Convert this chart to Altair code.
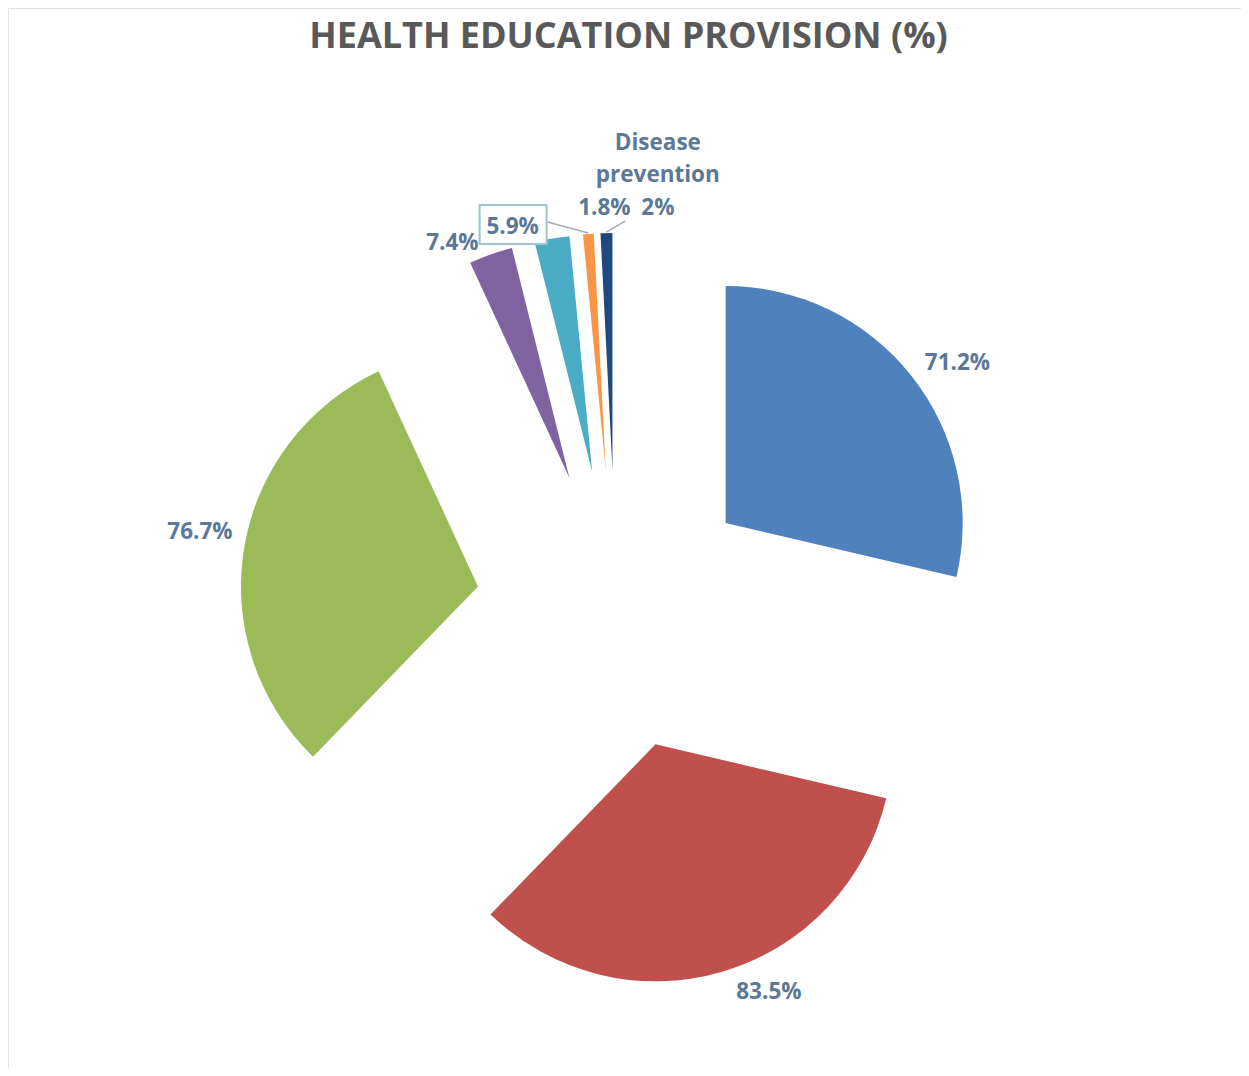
import altair as alt
import pandas as pd

# ---- data ----
values = [71.2, 83.5, 76.7, 7.4, 5.9, 1.8, 2.0]
value_labels = ["71.2%", "83.5%", "76.7%", "7.4%", "5.9%", "1.8%", "2%"]
category_names = ["", "", "", "", "", "", "Disease prevention"]
slice_colors = ["#4F81BD", "#C0504D", "#9BBB59", "#8064A2", "#4BACC6", "#F79646", "#1F497D"]

# ---- layout / style (label placement relative to each exploded slice's apex) ----
label_angle = [55.4, 155.4, 281.0, 333.5, 342.0, 359.7, 7.9]      # degrees clockwise from 12 o'clock
label_dist = [281.6, 272.5, 283.2, 262.5, 257.7, 262.4, 330.2]
label_boxed = [False, False, False, False, True, False, False]
leader_angle = [None, None, None, None, None, 346.8, 2.9]
leader_dist = [None, None, None, None, None, 255.2, 249.3]

CX, CY = 608, 602      # pie centre inside the plot area (px)
EXPLODE = 140          # explosion distance (px)
R = 237                # pie radius (px)
W, H = 1233, 1060

label_text = [
    (n.replace(" ", "\n") + "\n" + v) if n else v
    for n, v in zip(category_names, value_labels)
]

df = pd.DataFrame({
    "order": list(range(len(values))),
    "value": values,
    "label": label_text,
    "color": slice_colors,
    "lab_ang": label_angle,
    "lab_dist": label_dist,
    "boxed": label_boxed,
    "ld_ang": leader_angle,
    "ld_dist": leader_dist,
})

base = (
    alt.Chart(df)
    .transform_joinaggregate(total="sum(value)")
    .transform_window(cum="sum(value)", sort=[alt.SortField("order")], frame=[None, 0])
    .transform_calculate(t1="datum.cum / datum.total * 2 * PI")
    .transform_calculate(t0="datum.t1 - datum.value / datum.total * 2 * PI")
    .transform_calculate(mid="(datum.t0 + datum.t1) / 2")
    .transform_calculate(ax=f"{CX} + {EXPLODE} * sin(datum.mid)")
    .transform_calculate(ay=f"{CY} - {EXPLODE} * cos(datum.mid)")
    .transform_calculate(la="datum.lab_ang * PI / 180")
    .transform_calculate(lx="datum.ax + datum.lab_dist * sin(datum.la)")
    .transform_calculate(ly="datum.ay - datum.lab_dist * cos(datum.la)")
)

arcs = base.mark_arc(radius=R, strokeWidth=0).encode(
    x=alt.X("ax:Q", scale=None, axis=None),
    y=alt.Y("ay:Q", scale=None, axis=None),
    theta=alt.Theta("t0:Q", scale=None),
    theta2="t1:Q",
    color=alt.Color("color:N", scale=None),
)

leaders = (
    base.transform_filter("isValid(datum.ld_ang)")
    .transform_calculate(tx=f"datum.ax + {R + 1} * sin(datum.mid)")
    .transform_calculate(ty=f"datum.ay - {R + 1} * cos(datum.mid)")
    .transform_calculate(ex="datum.ax + datum.ld_dist * sin(datum.ld_ang * PI / 180)")
    .transform_calculate(ey="datum.ay - datum.ld_dist * cos(datum.ld_ang * PI / 180)")
    .mark_rule(color="#a3acb5", strokeWidth=1.5)
    .encode(
        x=alt.X("tx:Q", scale=None, axis=None),
        y=alt.Y("ty:Q", scale=None, axis=None),
        x2="ex:Q",
        y2="ey:Q",
    )
)

boxes = (
    base.transform_filter("datum.boxed")
    .transform_calculate(bx0="datum.lx - 33", bx1="datum.lx + 34")
    .transform_calculate(by0="datum.ly - 22", by1="datum.ly + 17")
    .mark_rect(fill="white", stroke="#9fc3cf", strokeWidth=2)
    .encode(
        x=alt.X("bx0:Q", scale=None, axis=None),
        x2="bx1:Q",
        y=alt.Y("by0:Q", scale=None, axis=None),
        y2="by1:Q",
    )
)

labels = base.mark_text(
    font="Open Sans",
    fontSize=22.5,
    fontWeight="bold",
    color="#5b7896",
    lineBreak="\n",
    lineHeight=32.5,
    align="center",
    baseline="middle",
).encode(
    x=alt.X("lx:Q", scale=None, axis=None),
    y=alt.Y("ly:Q", scale=None, axis=None),
    text="label:N",
)

chart = (
    alt.layer(arcs, leaders, boxes, labels)
    .properties(
        width=W,
        height=H,
        autosize=alt.AutoSizeParams(type="none"),
        padding=0,
        background="white",
        title=alt.TitleParams(
            "HEALTH EDUCATION PROVISION (%)",
            font="Open Sans",
            fontSize=36,
            fontWeight="bold",
            color="#595959",
            anchor="middle",
            offset=-48,
            dx=4,
        ),
    )
    .configure_view(stroke="#e3e3e3", strokeWidth=1)
)

chart.save("out.html", embed_options={"renderer": "svg", "actions": False})
